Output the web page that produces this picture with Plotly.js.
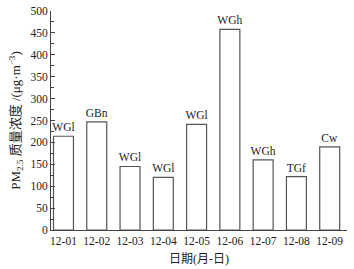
<!DOCTYPE html>
<html><head><meta charset="utf-8">
<script src="https://cdn.plot.ly/plotly-3.0.1.min.js"></script>
<style>html,body{margin:0;padding:0;background:#fff}#chart{width:354px;height:269px}</style>
</head><body><div id="chart"></div>
<script>
const dates = ['12-01','12-02','12-03','12-04','12-05','12-06','12-07','12-08','12-09'];
const pm25 = [214, 247, 145, 120, 241, 458, 160, 122, 190];
const weatherTypes = ['WGl','GBn','WGl','WGl','WGl','WGh','WGh','TGf','Cw'];
const yTicks = [0,50,100,150,200,250,300,350,400,450,500];

const font = 'Liberation Serif, Times New Roman, Noto Sans CJK SC, serif';
const trace = {
  type: 'bar',
  x: dates,
  y: pm25,
  text: weatherTypes,
  textposition: 'outside',
  constraintext: 'none',
  cliponaxis: false,
  textfont: {family: font, size: 11.5, color: '#222'},
  width: 0.6,
  marker: {color: '#ffffff', line: {color: '#555', width: 1.2}},
  hoverinfo: 'none'
};
const layout = {
  width: 354, height: 269,
  margin: {l: 51, r: 7, t: 11, b: 39},
  paper_bgcolor: '#fff', plot_bgcolor: '#fff',
  showlegend: false,
  font: {family: font, size: 11.5, color: '#222'},
  xaxis: {
    type: 'category',
    range: [-0.375, 8.52],
    showline: true, linecolor: '#444', linewidth: 1,
    ticks: '', showgrid: false, zeroline: false,
    tickfont: {family: font, size: 11.5, color: '#222'},
    title: {text: '日期(月-日)', font: {family: font, size: 12, color: '#222'}, standoff: 8}
  },
  yaxis: {
    range: [0, 500],
    tickvals: yTicks,
    showline: true, linecolor: '#444', linewidth: 1,
    ticks: 'inside', ticklen: 4, tickcolor: '#444',
    minor: {dtick: 25, ticks: 'inside', ticklen: 3, tickcolor: '#444', showgrid: false},
    showgrid: false, zeroline: false,
    tickfont: {family: font, size: 11.5, color: '#222'},
    title: {text: 'PM<sub>2.5</sub> 质量浓度 /(μg·m<sup>−3</sup>)', font: {family: font, size: 13, color: '#222'}, standoff: 6}
  }
};
Plotly.newPlot('chart', [trace], layout, {staticPlot: true, displayModeBar: false});
</script></body></html>
